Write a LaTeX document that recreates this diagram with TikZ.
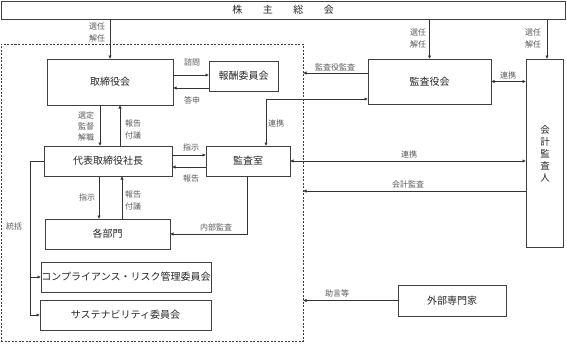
\documentclass[tikz,border=0pt]{standalone}
\usepackage{fontspec}
\setmainfont{Noto Sans CJK JP}
\usetikzlibrary{arrows.meta}
\begin{document}
\begin{tikzpicture}[x=1pt,y=-1pt,
  box/.style={draw=black!75, line width=0.6pt, inner sep=0pt, text=black!85,
    font=\fontsize{10}{12}\selectfont},
  lbl/.style={font=\fontsize{8}{12}\selectfont, text=black!65, inner sep=0pt, align=center},
  conn/.style={draw=black!80, line width=0.6pt, -{Triangle[length=3.2pt,width=3pt]}},
  both/.style={draw=black!80, line width=0.6pt, {Triangle[length=3.2pt,width=3pt]}-{Triangle[length=3.2pt,width=3pt]}},
  line/.style={draw=black!80, line width=0.6pt}]
\useasboundingbox (0,0) rectangle (567,343);
% group
\node[draw=black!75, dashed, dash pattern=on 2pt off 1.5pt, line width=0.6pt,
  minimum width=302pt, minimum height=297pt, inner sep=0pt] (grp) at (152,192.5) {};
% boxes
\node[box, minimum width=564pt, minimum height=18pt] (top) at (283,10)
  {株\hspace{20.5pt}主\hspace{20.5pt}総\hspace{20.5pt}会};
\node[box, minimum width=126pt, minimum height=46pt] (tor) at (110,82) {取締役会};
\node[box, minimum width=69pt, minimum height=30pt] (hoshu) at (243.5,76) {報酬委員会};
\node[box, minimum width=123pt, minimum height=45pt] (kyk) at (429.5,81.5) {監査役会};
\node[box, minimum width=37pt, minimum height=188pt] (kaikei) at (544.5,153) {};
\node[font=\fontsize{9.5}{12}\selectfont, text=black!85, align=center, inner sep=0pt] (kaikeit) at (545,154) {会\\計\\監\\査\\人};
\node[box, minimum width=128pt, minimum height=30pt] (dai) at (108,161) {代表取締役社長};
\node[box, minimum width=84pt, minimum height=30pt] (ksh) at (248,161) {監査室};
\node[box, minimum width=125pt, minimum height=30pt] (kbm) at (107.5,234) {各部門};
\node[box, minimum width=170pt, minimum height=30pt] (cmp) at (126,277) {コンプライアンス・リスク管理委員会};
\node[box, minimum width=171pt, minimum height=30pt] (sus) at (125.5,315) {サステナビリティ委員会};
\node[box, minimum width=108pt, minimum height=31pt] (gai) at (452,300.5) {外部専門家};
% connectors
\coordinate (kin) at ([xshift=2.5pt]kaikei.north);
\draw[conn] (top.south -| tor.north) -- (tor.north);
\draw[conn] (top.south -| kyk.north) -- (kyk.north);
\draw[conn] (top.south -| kin) -- (kin);
\draw[conn] ([yshift=7pt]tor.east) -- ([yshift=7pt]tor.east -| hoshu.west);
\draw[conn] ([yshift=-12pt]hoshu.west) -- ([yshift=-12pt]hoshu.west -| tor.east);
\draw[conn] ([yshift=8.5pt]kyk.west) -- ([yshift=8.5pt]kyk.west -| grp.east);
\draw[both] (kyk.east) -- (kyk.east -| kaikei.west);
\draw[both] ([yshift=-17.5pt]kyk.west) -| ([xshift=18pt]ksh.north);
\draw[conn] ([xshift=-10pt]tor.south) -- ([xshift=-10pt]tor.south |- dai.north);
\draw[conn] ([xshift=10pt]tor.south |- dai.north) -- ([xshift=10pt]tor.south);
\draw[conn] ([yshift=6pt]dai.east) -- ([yshift=6pt]dai.east -| ksh.west);
\draw[conn] ([yshift=-6pt]ksh.west) -- ([yshift=-6pt]ksh.west -| dai.east);
\draw[both] (ksh.east) -- (ksh.east -| kaikei.west);
\draw[conn] ([yshift=-38pt]kaikei.west) -- ([yshift=-38pt]kaikei.west -| grp.east);
\draw[conn] ([xshift=-9pt]dai.south) -- ([xshift=-9pt]dai.south |- kbm.north);
\draw[conn] ([xshift=14pt]dai.south |- kbm.north) -- ([xshift=14pt]dai.south);
\draw[conn] ([xshift=-1pt]ksh.south) |- (kbm.east);
\coordinate (tk) at ([xshift=-13pt]dai.west);
\draw[line] (dai.west) -- (tk);
\draw[conn] (tk) |- (cmp.west);
\draw[conn] (tk) |- (sus.west);
\draw[conn] (gai.west) -- (gai.west -| grp.east);
% labels
\node[lbl] at (97,32.5) {選任\\解任};
\node[lbl] at (418,38.5) {選任\\解任};
\node[lbl] at (533,38.5) {選任\\解任};
\node[lbl] at (192,62) {諮問};
\node[lbl] at (192,100) {答申};
\node[lbl] at (335,67.5) {監査役監査};
\node[lbl] at (508,75) {連携};
\node[lbl] at (276,123) {連携};
\node[lbl, font=\fontsize{8}{11}\selectfont] at (86,126) {選定\\監督\\解職};
\node[lbl] at (133,129) {報告\\付議};
\node[lbl] at (191,147) {指示};
\node[lbl] at (191,178) {報告};
\node[lbl] at (87,197) {指示};
\node[lbl] at (133,200) {報告\\付議};
\node[lbl] at (14,226) {統括};
\node[lbl] at (216,227) {内部監査};
\node[lbl] at (409,154) {連携};
\node[lbl] at (408,184) {会計監査};
\node[lbl] at (337,293) {助言等};
\end{tikzpicture}
\end{document}
